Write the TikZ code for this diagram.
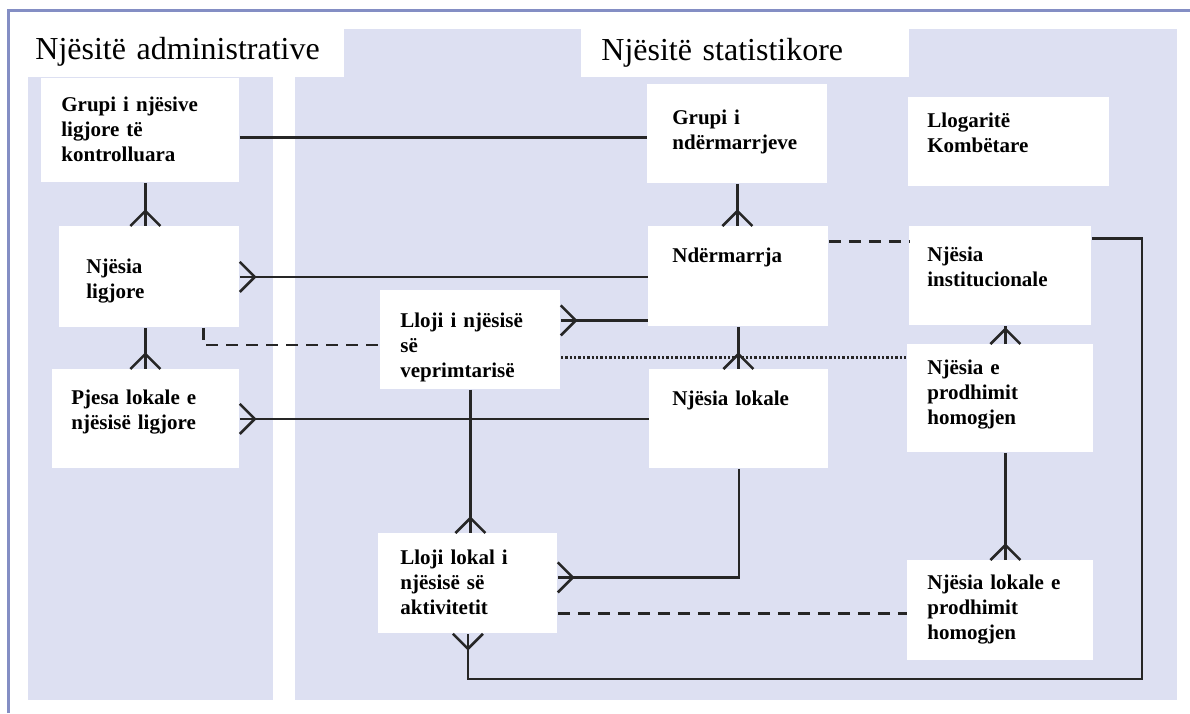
\documentclass[tikz,border=0pt]{standalone}
\usepackage{fontspec}
\setmainfont{Liberation Serif}
\usepackage{tikz}
\usetikzlibrary{arrows.meta}

\definecolor{panel}{RGB}{221,224,242}
\definecolor{frameline}{RGB}{132,142,196}

\pgfdeclarearrow{
  name = Crow,
  parameters = {\the\pgfarrowlength,\the\pgfarrowwidth},
  setup code = {
    \pgfarrowssettipend{0pt}
    \pgfarrowssetlineend{0pt}
    \pgfarrowssetbackend{-\pgfarrowlength}
    \pgfarrowssavethe\pgfarrowlength
    \pgfarrowssavethe\pgfarrowwidth
  },
  drawing code = {
    \pgfpathmoveto{\pgfqpoint{0pt}{.5\pgfarrowwidth}}
    \pgfpathlineto{\pgfqpoint{-\pgfarrowlength}{0pt}}
    \pgfpathlineto{\pgfqpoint{0pt}{-.5\pgfarrowwidth}}
    \pgfusepathqstroke
  },
  defaults = {length=7.5pt, width=15pt}
}

\tikzstyle{unit} = [rectangle, fill=white, anchor=north west, align=left, text height=7pt, font=\bfseries\fontsize{10.5}{12.5}\selectfont]
\tikzstyle{heading} = [rectangle, fill=white, anchor=north west, align=left, text height=10.6pt, font=\fontsize{16}{19}\selectfont]
\tikzstyle{link} = [line width=1.3pt, draw=black!85]
\tikzstyle{dashline} = [link, dash pattern=on 6pt off 4pt]
\tikzstyle{dotline} = [link, dash pattern=on 1.2pt off 1pt]

\begin{document}
\begin{tikzpicture}[x=0.5pt, y=-0.5pt]
\useasboundingbox (0,0) rectangle (1190,713);
\fill[white] (0,0) rectangle (1190,713);
\fill[panel] (28,29) rectangle (273,700);
\fill[panel] (295,29) rectangle (1177,700);
\draw[frameline, line width=1.5pt] (8,713) -- (8,10) -- (1190,10);

\node (adm) [heading, inner xsep=3.5pt, inner ysep=4.4pt, text width=151pt, text depth=4.6pt] at (28,29) {Njësitë administrative};
\node (stat) [heading, inner xsep=10pt, inner ysep=4.9pt, text width=144pt, text depth=3.6pt] at (581,29) {Njësitë statistikore};

\node (gnl) [unit, inner xsep=10pt, inner ysep=9.5pt, text width=79pt, text depth=26pt] at (41,78) {Grupi i njësive\\ligjore të\\kontrolluara};
\node (nl) [unit, inner xsep=13.5pt, inner ysep=16.5pt, text width=63pt, text depth=10.5pt] at (59,226) {Njësia\\ligjore};
\node (pl) [unit, inner xsep=9.5pt, inner ysep=10.5pt, text width=74.5pt, text depth=21.5pt] at (52,369) {Pjesa lokale e\\njësisë ligjore};

\node (gn) [unit, inner xsep=12.5pt, inner ysep=13pt, text width=65pt, text depth=16.5pt] at (647,84) {Grupi i\\ndërmarrjeve};
\node (lk) [unit, inner xsep=9.5pt, inner ysep=8pt, text width=81.5pt, text depth=21.5pt] at (908,97) {Llogaritë\\Kombëtare};
\node (nd) [unit, inner xsep=12pt, inner ysep=11pt, text width=66pt, text depth=21pt] at (648,226) {Ndërmarrja};
\node (ni) [unit, inner xsep=9pt, inner ysep=10.5pt, text width=73pt, text depth=21.5pt] at (909,226) {Njësia\\institucionale};
\node (lv) [unit, inner xsep=10pt, inner ysep=11.5pt, text width=70pt, text depth=19.5pt] at (380,290) {Lloji i njësisë\\së\\veprimtarisë};
\node (nph) [unit, inner xsep=10pt, inner ysep=8pt, text width=73pt, text depth=31pt] at (907,344) {Njësia e\\prodhimit\\homogjen};
\node (nlok) [unit, inner xsep=11.5pt, inner ysep=11pt, text width=66.5pt, text depth=20.5pt] at (649,369) {Njësia lokale};
\node (llk) [unit, inner xsep=11pt, inner ysep=8.5pt, text width=67.5pt, text depth=26pt] at (378,533) {Lloji lokal i\\njësisë së\\aktivitetit};
\node (nlph) [unit, inner xsep=10pt, inner ysep=7.5pt, text width=73pt, text depth=28pt] at (907,560) {Njësia lokale e\\prodhimit\\homogjen};

\coordinate (turn) at (1142,679);

\draw[link] ([yshift=-3.5pt]gnl.east) -- ([yshift=-3.5pt]gnl.east -| gn.west);
\draw[link, -Crow] ([xshift=2.5pt]gnl.south) -- ([xshift=2.5pt]gnl.south |- nl.north);
\draw[link, -Crow] ([xshift=-2pt]nl.south) -- ([xshift=-2pt]nl.south |- pl.north);
\draw[link, Crow-] (nl.east) -- (nl.east -| nd.west);
\draw[link, Crow-] (pl.east) -- (nlok.west);
\draw[dashline] ([xshift=27pt]nl.south) |- ([yshift=-2.5pt]lv.west);
\draw[link, Crow-] ([yshift=9.75pt]lv.east) -- ([yshift=9.75pt]lv.east -| nd.west);
\draw[dotline] ([yshift=-8.75pt]lv.east) -- ([yshift=-8.75pt]lv.east -| nph.west);
\draw[dashline] ([yshift=17.5pt]nd.east) -- ([yshift=17.5pt]nd.east -| ni.west);
\draw[link, -Crow] (gn.south) -- (gn.south |- nd.north);
\draw[link, -Crow] (nd.south) -- (nd.south |- nlok.north);
\draw[link, -Crow] (lv.south) -- (lv.south |- llk.north);
\draw[link, -Crow] (nlok.south) |- ([yshift=3pt]llk.east);
\draw[dashline] ([yshift=-15pt]llk.east) -- ([yshift=-15pt]llk.east -| nlph.west);
\draw[link, Crow-] ([xshift=2.5pt]nph.north) -- ([xshift=2.5pt]nph.north |- ni.south);
\draw[link, -Crow] ([xshift=2.5pt]nph.south) -- ([xshift=2.5pt]nph.south |- nlph.north);
\draw[link, -Crow] ([yshift=18.75pt]ni.east) -| (turn) -| (llk.south);
\end{tikzpicture}
\end{document}
